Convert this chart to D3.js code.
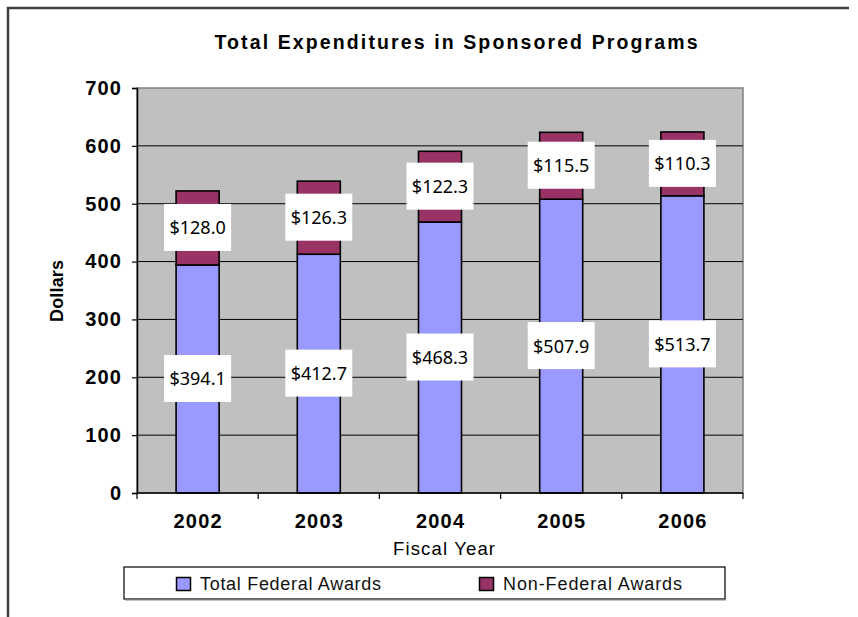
<!DOCTYPE html>
<html><head><meta charset="utf-8">
<script src="https://cdn.jsdelivr.net/npm/d3@7"></script>
<style>body{margin:0;background:#fff}svg{display:block}</style>
</head><body>
<svg id="c" width="858" height="617"></svg>
<script>
const years = ["2002","2003","2004","2005","2006"];
const federal = [394.1, 412.7, 468.3, 507.9, 513.7];
const nonFederal = [128.0, 126.3, 122.3, 115.5, 110.3];
const yTicks = [0,100,200,300,400,500,600,700];
const seriesNames = ["Total Federal Awards","Non-Federal Awards"];
const colors = ["#9999FF","#993366"];
const title = "Total Expenditures in Sponsored Programs";

const FONT = "Liberation Sans, Arial, sans-serif";
const svg = d3.select("#c");
const L=137, R=743, T=88, B=493;
const y = d3.scaleLinear().domain([0,700]).range([B,T]);
const x = d3.scaleBand().domain(years).range([L,R]).paddingInner(0.645).paddingOuter(0.3225);
const xc = d3.scaleBand().domain(years).range([L,R]);

// outer border (left and top)
svg.append("path").attr("d",`M8,617 V8 H849`).attr("fill","none").attr("stroke","#404040").attr("stroke-width",2.5);

// title
svg.append("text").attr("x",456).attr("y",49).attr("text-anchor","middle")
  .attr("font-family",FONT).attr("font-weight","bold").attr("font-size",19.5)
  .attr("textLength",483).attr("lengthAdjust","spacing").text(title);

// plot bg
svg.append("rect").attr("x",L).attr("y",T).attr("width",R-L).attr("height",B-T).attr("fill","#C0C0C0")
  .attr("stroke","#808080").attr("stroke-width",1.5);

// gridlines
svg.append("g").selectAll("line").data(yTicks.filter(d=>d>0 && d<700)).join("line")
  .attr("x1",L).attr("x2",R).attr("y1",d=>y(d)).attr("y2",d=>y(d))
  .attr("stroke","#000").attr("stroke-width",1);

// y axis
const yAxis = d3.axisLeft(y).tickValues(yTicks).tickSize(5).tickPadding(11).tickFormat(d3.format("d"));
const gy = svg.append("g").attr("transform",`translate(${L},0)`).call(yAxis);
gy.select(".domain").attr("stroke","#000").attr("stroke-width",1.5);
gy.selectAll(".tick line").attr("stroke","#000").attr("stroke-width",1.2);
gy.selectAll(".tick text").attr("font-family",FONT).attr("font-weight","bold")
  .attr("font-size",20).attr("fill","#000").style("letter-spacing","1.2px").attr("dx","1.2px");

// bars
const stackData = years.map((yr,i)=>({year:yr, f:federal[i], n:nonFederal[i]}));
const bars = svg.append("g");
bars.selectAll("rect.f").data(stackData).join("rect").attr("class","f")
  .attr("x",d=>x(d.year)).attr("width",x.bandwidth())
  .attr("y",d=>y(d.f)).attr("height",d=>y(0)-y(d.f))
  .attr("fill",colors[0]).attr("stroke","#000").attr("stroke-width",1.6);
bars.selectAll("rect.n").data(stackData).join("rect").attr("class","n")
  .attr("x",d=>x(d.year)).attr("width",x.bandwidth())
  .attr("y",d=>y(d.f+d.n)).attr("height",d=>y(d.f)-y(d.f+d.n))
  .attr("fill",colors[1]).attr("stroke","#000").attr("stroke-width",1.6);

// x axis
const gx = svg.append("g");
gx.append("line").attr("x1",L).attr("x2",R).attr("y1",B).attr("y2",B).attr("stroke","#000").attr("stroke-width",1.5);
const bounds = years.map(d=>xc(d)).concat([R]);
gx.selectAll("line.t").data(bounds).join("line").attr("class","t")
  .attr("x1",d=>d).attr("x2",d=>d).attr("y1",B).attr("y2",B+6).attr("stroke","#000").attr("stroke-width",1.2);
gx.selectAll("text").data(years).join("text")
  .attr("x",d=>xc(d)+xc.bandwidth()/2+0.6).attr("y",528).attr("text-anchor","middle")
  .attr("font-family",FONT).attr("font-weight","bold").attr("font-size",20)
  .style("letter-spacing","1.2px").text(d=>d);

// data labels
const labels = [];
stackData.forEach(d=>{
  labels.push({year:d.year, mid:d.f/2, v:d.f});
  labels.push({year:d.year, mid:d.f+d.n/2, v:d.n});
});
const lg = svg.append("g").selectAll("g").data(labels).join("g")
  .attr("transform",d=>`translate(${x(d.year)+x.bandwidth()/2},${y(d.mid)})`);
lg.append("rect").attr("x",-33.5).attr("y",-24).attr("width",67).attr("height",47).attr("fill","#fff");
lg.append("text").attr("text-anchor","middle").attr("y",6.5)
  .attr("font-family","Noto Sans, DejaVu Sans, sans-serif").attr("font-size",18).attr("fill","#000")
  .text(d=>"$"+d.v.toFixed(1));

// axis titles
svg.append("text").attr("x",444).attr("y",555).attr("text-anchor","middle")
  .attr("font-family",FONT).attr("font-size",18.5)
  .attr("textLength",102).attr("lengthAdjust","spacing").text("Fiscal Year");
svg.append("text").attr("transform","translate(63,291) rotate(-90)").attr("text-anchor","middle")
  .attr("font-family",FONT).attr("font-weight","bold").attr("font-size",18)
  .attr("textLength",62).attr("lengthAdjust","spacing").text("Dollars");

// legend
const leg = svg.append("g");
leg.append("rect").attr("x",124).attr("y",567).attr("width",601).attr("height",32)
  .attr("fill","#fff").attr("stroke","#000").attr("stroke-width",1.2);
leg.append("line").attr("x1",125).attr("x2",726).attr("y1",600).attr("y2",600).attr("stroke","#888").attr("stroke-width",1);
const legItems = [{x:176, tx:200, tl:181},{x:479, tx:503, tl:179}];
seriesNames.forEach((s,i)=>{
  leg.append("rect").attr("x",legItems[i].x+0.5).attr("y",577.5).attr("width",14).attr("height",13)
    .attr("fill",colors[i]).attr("stroke","#000").attr("stroke-width",1.5);
  leg.append("text").attr("x",legItems[i].tx).attr("y",590)
    .attr("font-family",FONT).attr("font-size",18).attr("fill","#111")
    .attr("textLength",legItems[i].tl).attr("lengthAdjust","spacing").text(s);
});
</script>
</body></html>
